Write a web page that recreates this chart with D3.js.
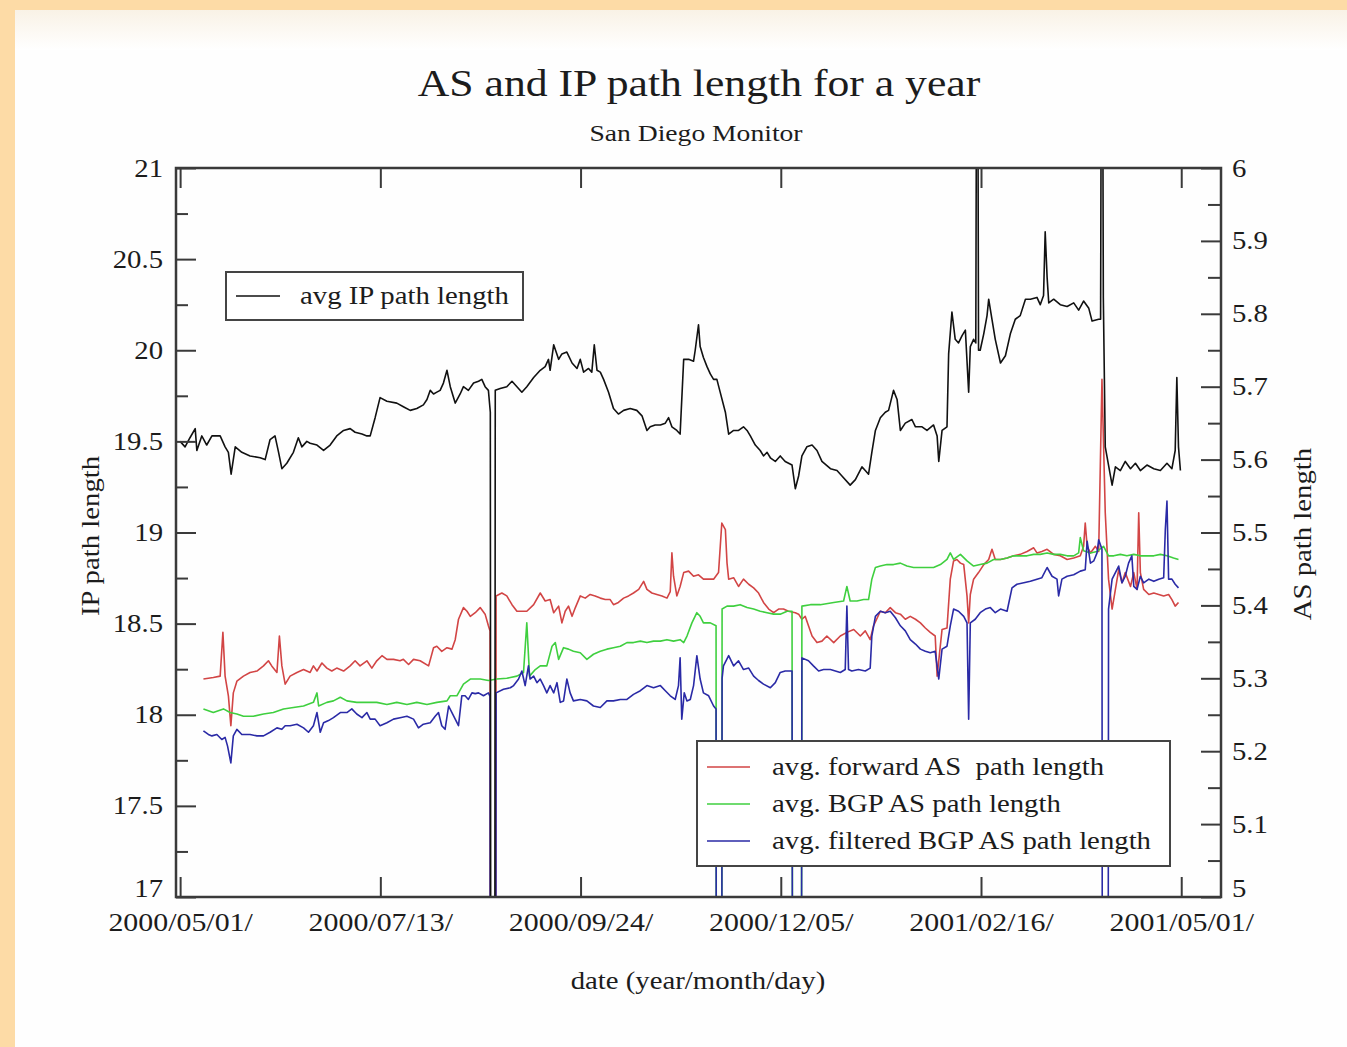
<!DOCTYPE html>
<html>
<head>
<meta charset="utf-8">
<title>AS and IP path length for a year</title>
<script src="https://cdn.jsdelivr.net/npm/d3@7"></script>
<style>
  body { margin: 0; background: #fddba6; }
  svg { display: block; }
  text { font-family: "Liberation Serif", "Times New Roman", serif; fill: #1c1c1c; }
</style>
</head>
<body>
<svg id="chart" width="1347" height="1047"></svg>
<script>
// ---- data: day offset from 2000/05/01, daily averages ----
// average IP path length (left axis)
const ipPath = [[0,19.50],[1.8,19.47],[3.6,19.52],[5.5,19.57],[6.1,19.45],[7.9,19.53],[9.7,19.48],[11.6,19.53],[14.6,19.53],[16.4,19.47],[17.6,19.44],[18.6,19.32],[20.1,19.47],[22.5,19.44],[25.5,19.42],[29.2,19.41],[31.0,19.40],[32.8,19.51],[34.6,19.53],[35.9,19.44],[37.1,19.35],[38.9,19.38],[41.3,19.44],[43.1,19.52],[44.4,19.47],[46.2,19.50],[47.4,19.49],[49.9,19.48],[52.3,19.45],[54.7,19.48],[57.1,19.53],[59.6,19.56],[62.0,19.57],[63.8,19.55],[66.3,19.54],[68.1,19.53],[69.3,19.53],[71.1,19.63],[72.9,19.74],[75.4,19.72],[79.0,19.71],[81.4,19.69],[83.9,19.67],[86.3,19.68],[88.7,19.70],[90.0,19.73],[91.2,19.78],[92.4,19.76],[93.6,19.77],[94.8,19.78],[96.0,19.82],[97.3,19.89],[98.5,19.80],[100.3,19.71],[102.1,19.76],[103.3,19.80],[105.1,19.78],[107.0,19.82],[108.8,19.83],[110.0,19.84],[111.2,19.80],[112.4,19.78],[113.1,19.66],[114.0,0],[114.9,19.78],[116.7,19.79],[119.1,19.80],[121.0,19.83],[122.8,19.80],[124.6,19.77],[126.4,19.80],[128.9,19.85],[131.3,19.89],[133.1,19.91],[134.3,19.95],[134.9,19.89],[136.2,20.03],[138.0,19.95],[139.2,19.98],[141.0,19.99],[142.9,19.93],[144.7,19.90],[145.9,19.95],[147.1,19.88],[148.9,19.90],[150.1,19.88],[151.0,20.03],[152.0,19.89],[153.2,19.88],[154.4,19.84],[156.2,19.77],[158.0,19.68],[159.8,19.65],[161.7,19.67],[164.1,19.68],[166.5,19.67],[168.4,19.64],[170.2,19.56],[171.4,19.58],[173.2,19.59],[175.1,19.59],[176.9,19.60],[178.1,19.63],[179.3,19.58],[181.1,19.56],[182.3,19.54],[183.6,19.95],[185.4,19.95],[187.2,19.94],[187.8,20.00],[189.0,20.14],[189.6,20.02],[190.8,19.96],[192.1,19.91],[193.3,19.87],[194.5,19.84],[195.7,19.84],[196.9,19.77],[198.8,19.66],[200.0,19.54],[201.8,19.56],[203.6,19.56],[205.4,19.58],[206.7,19.56],[207.9,19.53],[209.7,19.48],[211.5,19.45],[212.7,19.42],[214.0,19.44],[215.2,19.41],[217.0,19.39],[218.8,19.42],[220.6,19.39],[223.1,19.37],[224.3,19.24],[225.5,19.31],[226.7,19.42],[228.5,19.47],[230.4,19.48],[232.2,19.45],[234.0,19.39],[237.1,19.35],[239.5,19.34],[241.3,19.31],[244.3,19.26],[246.2,19.29],[248.6,19.36],[249.8,19.34],[251.0,19.32],[252.2,19.44],[253.5,19.56],[255.3,19.63],[257.1,19.66],[258.3,19.67],[260.1,19.78],[261.4,19.73],[262.6,19.56],[264.4,19.60],[266.8,19.62],[268.1,19.58],[270.5,19.58],[272.3,19.56],[274.7,19.59],[276.0,19.53],[276.6,19.39],[277.8,19.56],[279.6,19.58],[280.2,19.98],[281.4,20.21],[282.6,20.06],[283.8,20.04],[285.1,20.08],[286.3,20.11],[287.5,19.77],[288.1,20.02],[289.3,20.06],[290.1,20.04],[290.6,23],[291.1,20.00],[291.7,20.00],[293.0,20.09],[294.2,20.19],[294.8,20.28],[296.0,20.17],[297.2,20.06],[299.1,19.93],[300.9,19.97],[302.7,20.09],[304.5,20.17],[306.3,20.19],[308.2,20.28],[310.0,20.28],[312.4,20.29],[313.6,20.25],[314.8,20.30],[315.4,20.65],[316.1,20.40],[316.7,20.26],[318.5,20.28],[320.9,20.25],[323.4,20.24],[325.8,20.26],[327.6,20.22],[329.4,20.27],[331.3,20.23],[332.5,20.16],[334.9,20.17],[335.6,20.17],[336.1,23],[336.6,20.29],[337.3,19.47],[339.8,19.26],[341.0,19.36],[342.8,19.34],[344.6,19.39],[346.5,19.35],[348.3,19.38],[350.1,19.34],[352.5,19.37],[355.0,19.35],[357.4,19.34],[359.8,19.38],[361.6,19.35],[362.8,19.45],[363.4,19.85],[364.0,19.47],[364.7,19.34]];

// average forward AS path length (right axis)
const forwardAS = [[8.5,5.299],[12.1,5.301],[14.6,5.303],[15.6,5.363],[16.4,5.303],[17.6,5.276],[18.5,5.235],[19.4,5.280],[20.7,5.296],[23.1,5.303],[25.5,5.308],[28.0,5.310],[30.4,5.317],[32.2,5.324],[33.4,5.317],[35.3,5.308],[36.2,5.358],[37.1,5.317],[38.3,5.292],[40.1,5.303],[42.6,5.308],[45.0,5.312],[47.4,5.308],[48.6,5.317],[49.9,5.310],[51.7,5.321],[53.5,5.314],[55.3,5.310],[57.1,5.314],[59.6,5.310],[62.0,5.317],[63.8,5.324],[65.6,5.317],[68.1,5.324],[69.9,5.314],[71.7,5.324],[73.6,5.331],[75.4,5.326],[77.8,5.326],[80.2,5.324],[81.4,5.326],[83.3,5.319],[85.1,5.326],[87.5,5.324],[90.6,5.317],[92.4,5.342],[93.6,5.344],[95.4,5.337],[97.3,5.342],[99.1,5.340],[100.3,5.353],[101.5,5.381],[103.3,5.397],[104.6,5.392],[105.8,5.385],[107.6,5.390],[109.4,5.397],[111.2,5.388],[112.4,5.372],[113.0,5.365],[114.0,0],[115.2,5.413],[117.3,5.417],[119.1,5.413],[121.0,5.401],[122.8,5.392],[124.0,5.392],[126.4,5.392],[128.9,5.401],[131.3,5.417],[133.1,5.406],[134.9,5.408],[136.2,5.390],[138.0,5.399],[139.2,5.376],[140.4,5.392],[141.6,5.399],[142.9,5.385],[144.1,5.397],[145.9,5.413],[147.7,5.410],[149.5,5.415],[151.3,5.413],[153.2,5.410],[155.0,5.408],[156.8,5.408],[158.0,5.401],[159.8,5.404],[161.7,5.410],[163.5,5.413],[165.3,5.417],[167.2,5.422],[169.0,5.433],[170.2,5.422],[172.0,5.417],[173.8,5.415],[175.7,5.413],[177.5,5.410],[178.7,5.419],[179.3,5.472],[179.9,5.440],[181.1,5.413],[182.3,5.426],[183.6,5.445],[185.4,5.447],[187.2,5.440],[189.0,5.442],[190.8,5.436],[192.7,5.436],[194.5,5.436],[196.3,5.445],[197.5,5.513],[198.8,5.504],[199.4,5.458],[200.0,5.436],[201.8,5.438],[203.6,5.426],[205.4,5.436],[207.3,5.429],[209.1,5.424],[210.9,5.417],[212.7,5.404],[214.6,5.395],[216.4,5.390],[218.2,5.395],[220.0,5.395],[221.8,5.392],[224.3,5.390],[225.5,5.388],[226.7,5.381],[227.9,5.385],[229.1,5.372],[230.4,5.358],[232.2,5.349],[234.0,5.351],[235.8,5.358],[238.3,5.349],[240.7,5.358],[243.1,5.363],[245.6,5.367],[248.0,5.358],[249.8,5.365],[251.6,5.353],[252.8,5.372],[255.3,5.392],[257.1,5.390],[258.9,5.397],[260.8,5.390],[262.6,5.388],[264.4,5.381],[266.2,5.385],[268.1,5.381],[269.9,5.376],[271.7,5.369],[273.5,5.363],[275.3,5.358],[276.0,5.303],[277.8,5.367],[279.6,5.369],[280.8,5.436],[282.0,5.461],[283.2,5.463],[284.5,5.458],[285.7,5.456],[286.9,5.413],[287.5,5.376],[288.1,5.415],[289.3,5.436],[291.1,5.445],[293.0,5.456],[294.8,5.463],[296.0,5.477],[297.2,5.463],[299.1,5.463],[301.5,5.465],[303.9,5.468],[306.3,5.470],[308.8,5.474],[311.2,5.479],[312.4,5.472],[314.2,5.474],[316.1,5.477],[318.5,5.470],[320.9,5.468],[323.4,5.463],[325.8,5.465],[328.2,5.468],[329.4,5.481],[330.0,5.513],[330.7,5.481],[331.9,5.472],[333.7,5.481],[334.9,5.474],[336.1,5.710],[337.3,5.527],[338.5,5.436],[339.8,5.395],[341.0,5.422],[342.2,5.449],[343.4,5.431],[344.6,5.445],[346.5,5.426],[347.7,5.445],[348.9,5.422],[349.5,5.527],[350.1,5.445],[351.3,5.422],[353.2,5.415],[355.0,5.417],[356.8,5.415],[358.6,5.413],[360.4,5.415],[361.6,5.408],[362.8,5.399],[364.0,5.404]];

// average BGP AS path length (right axis)
const bgpAS = [[8.5,5.258],[12.1,5.253],[15.8,5.258],[18.2,5.253],[20.7,5.251],[23.1,5.248],[26.7,5.248],[30.4,5.251],[34.0,5.253],[37.7,5.258],[41.3,5.260],[45.0,5.262],[48.6,5.267],[49.9,5.280],[50.5,5.262],[53.5,5.267],[55.9,5.269],[58.4,5.274],[60.8,5.269],[64.4,5.267],[68.1,5.267],[71.7,5.267],[75.4,5.264],[79.0,5.267],[82.7,5.264],[86.3,5.267],[90.0,5.264],[93.6,5.267],[97.3,5.269],[98.5,5.276],[100.9,5.276],[103.3,5.292],[105.8,5.299],[109.4,5.299],[112.4,5.297],[115.5,5.299],[119.1,5.300],[122.8,5.303],[125.2,5.308],[126.4,5.376],[127.4,5.303],[129.5,5.312],[131.3,5.317],[133.7,5.317],[135.6,5.344],[136.8,5.349],[138.0,5.326],[139.8,5.342],[141.6,5.340],[143.4,5.337],[145.9,5.335],[148.3,5.326],[150.7,5.333],[153.2,5.337],[155.6,5.340],[158.0,5.342],[160.5,5.344],[162.9,5.349],[165.3,5.349],[167.8,5.351],[170.2,5.349],[172.6,5.351],[175.1,5.351],[177.5,5.353],[179.9,5.351],[182.3,5.353],[183.6,5.349],[184.8,5.358],[186.6,5.376],[188.4,5.390],[189.6,5.385],[190.8,5.376],[193.3,5.376],[195.4,5.372],[196.4,0],[197.6,5.395],[199.4,5.399],[201.8,5.399],[204.2,5.401],[206.7,5.397],[209.1,5.395],[211.5,5.392],[214.0,5.390],[216.4,5.388],[218.8,5.388],[221.3,5.392],[223.1,5.392],[225.0,0],[226.7,5.399],[229.8,5.401],[233.4,5.401],[238.3,5.404],[241.9,5.406],[243.1,5.426],[244.3,5.406],[246.8,5.406],[249.2,5.408],[251.0,5.408],[252.2,5.436],[253.5,5.452],[255.3,5.454],[257.7,5.456],[260.1,5.456],[262.6,5.458],[265.0,5.454],[267.4,5.452],[269.9,5.452],[272.3,5.452],[274.7,5.452],[277.2,5.456],[279.6,5.463],[280.8,5.472],[282.0,5.463],[284.5,5.470],[286.9,5.461],[289.3,5.454],[291.7,5.456],[294.2,5.458],[296.6,5.463],[299.1,5.463],[301.5,5.465],[303.9,5.468],[306.3,5.468],[308.8,5.468],[311.2,5.470],[313.6,5.470],[316.1,5.472],[318.5,5.470],[320.9,5.470],[323.4,5.468],[325.8,5.468],[327.6,5.472],[328.2,5.493],[329.4,5.475],[331.9,5.472],[334.3,5.474],[336.7,5.481],[338.5,5.468],[340.4,5.468],[342.8,5.470],[345.2,5.468],[347.7,5.470],[350.1,5.468],[352.5,5.468],[355.0,5.468],[357.4,5.470],[359.8,5.468],[362.2,5.465],[364.0,5.463]];

// average filtered BGP AS path length (right axis)
const filteredAS = [[8.5,5.228],[10.3,5.223],[11.6,5.221],[13.4,5.223],[15.2,5.216],[16.4,5.219],[17.3,5.207],[18.5,5.184],[19.4,5.221],[20.7,5.230],[22.5,5.223],[25.5,5.223],[28.0,5.221],[30.4,5.221],[32.8,5.226],[35.3,5.232],[37.1,5.230],[38.3,5.235],[40.1,5.235],[42.6,5.237],[45.0,5.232],[46.8,5.226],[48.6,5.235],[49.9,5.253],[51.1,5.226],[52.3,5.239],[54.1,5.242],[55.9,5.246],[58.4,5.253],[60.8,5.253],[62.6,5.258],[64.4,5.251],[66.3,5.246],[68.1,5.253],[69.3,5.244],[71.1,5.244],[72.9,5.235],[75.4,5.239],[77.8,5.244],[80.2,5.246],[82.7,5.248],[85.1,5.244],[86.9,5.232],[88.7,5.237],[91.2,5.239],[93.0,5.248],[94.2,5.253],[95.4,5.235],[96.6,5.230],[97.9,5.262],[99.1,5.253],[100.3,5.244],[101.5,5.235],[102.7,5.276],[103.9,5.276],[105.1,5.271],[106.4,5.280],[107.6,5.279],[108.8,5.280],[110.6,5.276],[112.4,5.280],[113.0,5.275],[114.0,0],[115.2,5.280],[117.9,5.285],[120.4,5.287],[121.6,5.290],[123.4,5.299],[124.6,5.310],[125.8,5.290],[127.0,5.317],[127.6,5.299],[128.9,5.303],[130.1,5.294],[131.3,5.299],[132.5,5.290],[133.7,5.280],[134.9,5.290],[136.2,5.280],[137.4,5.294],[138.6,5.267],[139.8,5.269],[141.0,5.299],[142.2,5.280],[143.4,5.269],[145.9,5.271],[148.3,5.269],[150.7,5.262],[153.2,5.260],[155.6,5.269],[158.0,5.269],[160.5,5.271],[162.9,5.271],[165.3,5.278],[167.8,5.283],[170.2,5.290],[172.6,5.287],[175.1,5.290],[176.9,5.283],[178.7,5.276],[180.5,5.271],[181.7,5.290],[182.3,5.328],[182.9,5.244],[183.8,5.280],[184.8,5.269],[186.0,5.271],[187.2,5.290],[188.4,5.331],[189.6,5.299],[190.8,5.280],[192.7,5.276],[194.5,5.262],[195.4,5.258],[196.4,0],[197.6,5.300],[198.1,5.317],[200.0,5.331],[201.8,5.317],[203.6,5.324],[205.4,5.312],[207.3,5.314],[209.1,5.303],[210.9,5.297],[212.7,5.292],[215.2,5.287],[217.0,5.294],[218.8,5.308],[220.6,5.310],[223.1,5.310],[225.0,0],[226.7,5.328],[229.1,5.324],[230.9,5.317],[232.8,5.310],[234.6,5.312],[237.1,5.312],[240.7,5.308],[242.5,5.312],[243.1,5.399],[243.7,5.312],[244.9,5.310],[247.3,5.312],[249.8,5.310],[251.6,5.314],[252.2,5.358],[253.5,5.385],[255.3,5.392],[257.1,5.390],[258.9,5.392],[260.8,5.383],[262.6,5.372],[264.4,5.365],[266.2,5.353],[268.1,5.347],[269.9,5.340],[271.7,5.337],[273.5,5.335],[275.3,5.337],[276.6,5.299],[277.8,5.340],[279.6,5.344],[280.8,5.372],[282.0,5.395],[283.8,5.392],[285.7,5.385],[286.9,5.376],[287.5,5.244],[288.1,5.376],[289.9,5.381],[291.7,5.390],[293.6,5.395],[295.4,5.397],[297.2,5.390],[299.1,5.395],[301.5,5.392],[303.3,5.424],[305.1,5.429],[307.6,5.431],[310.0,5.433],[312.4,5.436],[314.2,5.438],[316.1,5.452],[317.9,5.440],[319.7,5.436],[320.3,5.413],[321.5,5.436],[323.4,5.440],[325.8,5.442],[328.2,5.447],[330.0,5.449],[330.7,5.488],[331.9,5.458],[333.1,5.461],[334.3,5.472],[334.9,5.490],[336.1,5.477],[337.2,0],[338.5,5.395],[339.8,5.436],[341.0,5.445],[342.2,5.454],[343.4,5.431],[344.6,5.440],[345.8,5.458],[347.0,5.468],[347.7,5.426],[348.9,5.422],[350.1,5.440],[351.3,5.431],[353.2,5.436],[355.0,5.433],[356.8,5.436],[358.6,5.438],[359.2,5.504],[359.8,5.543],[360.4,5.436],[361.6,5.436],[362.8,5.429],[364.0,5.424]];

// axis ticks
const dateTickDays = [0, 73, 146, 219, 292, 365];
const dateTickLabels = ["2000/05/01/", "2000/07/13/", "2000/09/24/", "2000/12/05/", "2001/02/16/", "2001/05/01/"];
const ipTicks = [17, 17.5, 18, 18.5, 19, 19.5, 20, 20.5, 21];
const ipMinorTicks = [17.25, 17.75, 18.25, 18.75, 19.25, 19.75, 20.25, 20.75];
const asTicks = [5, 5.1, 5.2, 5.3, 5.4, 5.5, 5.6, 5.7, 5.8, 5.9, 6];
const asMinorTicks = [5.05, 5.15, 5.25, 5.35, 5.45, 5.55, 5.65, 5.75, 5.85, 5.95];

// series styling and legend text
const asSeries = [
  { name: "avg. forward AS  path length", values: forwardAS, color: "#d24545" },
  { name: "avg. BGP AS path length", values: bgpAS, color: "#3fcf3f" },
  { name: "avg. filtered BGP AS path length", values: filteredAS, color: "#2a2aa6" }
];

// ---- layout ----
const W = 1347, H = 1047;
const SX = 1.15;            // horizontal stretch of the serif lettering
const frame = { left: 176, right: 1221, top: 168, bottom: 897 };

const svg = d3.select("#chart");
const defs = svg.append("defs");

const panelGrad = defs.append("linearGradient").attr("id", "panelTop")
  .attr("x1", 0).attr("y1", 0).attr("x2", 0).attr("y2", 1);
panelGrad.append("stop").attr("offset", "0%").attr("stop-color", "#f9f2e6");
panelGrad.append("stop").attr("offset", "100%").attr("stop-color", "#ffffff");

defs.append("clipPath").attr("id", "plotClip")
  .append("rect")
  .attr("x", frame.left).attr("y", frame.top)
  .attr("width", frame.right - frame.left).attr("height", frame.bottom - frame.top);

// page and panel
svg.append("rect").attr("width", W).attr("height", H).attr("fill", "#fddba6");
svg.append("rect").attr("x", 15).attr("y", 10).attr("width", W - 15).attr("height", H - 10).attr("fill", "#fefefe");
svg.append("rect").attr("x", 15).attr("y", 10).attr("width", W - 15).attr("height", 40).attr("fill", "url(#panelTop)");

// scales
const x = d3.scaleLinear().domain([-1.5, 379.5]).range([frame.left, frame.right]);
const yIP = d3.scaleLinear().domain([17, 21]).range([frame.bottom, frame.top]);
const yAS = d3.scaleLinear().domain([5, 6]).range([frame.bottom, frame.top]);

function stretched(parent, px, py, str, size, anchor, rotate) {
  const g = parent.append("g")
    .attr("transform", `translate(${px},${py})` + (rotate ? ` rotate(${rotate})` : ""));
  return g.append("text")
    .attr("transform", `scale(${SX},1)`)
    .attr("text-anchor", anchor || "start")
    .attr("font-size", size)
    .style("white-space", "pre")
    .text(str);
}

function stretchTickLabels(axisG) {
  axisG.selectAll(".tick text").each(function () {
    const t = d3.select(this);
    t.attr("x", (+t.attr("x") || 0) / SX).attr("transform", `scale(${SX},1)`);
  });
}

// ---- plotted series ----
const plot = svg.append("g").attr("clip-path", "url(#plotClip)");

const asLine = d3.line().x(d => x(d[0])).y(d => yAS(d[1]));
asSeries.forEach(s => {
  plot.append("path").datum(s.values)
    .attr("fill", "none").attr("stroke", s.color)
    .attr("stroke-width", 1.6).attr("stroke-linejoin", "round")
    .attr("d", asLine);
});

const ipLine = d3.line().x(d => x(d[0])).y(d => yIP(d[1]));
plot.append("path").datum(ipPath)
  .attr("fill", "none").attr("stroke", "#111")
  .attr("stroke-width", 1.6).attr("stroke-linejoin", "round")
  .attr("d", ipLine);

// ---- axes ----
const axisColor = "#3a3a3a";
function styleAxis(g) {
  g.select(".domain").remove();
  g.selectAll(".tick line").attr("stroke", axisColor).attr("stroke-width", 2);
  g.selectAll(".tick text").attr("font-size", 25).attr("fill", "#1c1c1c")
    .attr("font-family", '"Liberation Serif", "Times New Roman", serif');
}

// bottom date axis (ticks point up into the plot)
const bottomAxis = svg.append("g").attr("transform", `translate(0,${frame.bottom})`)
  .call(d3.axisBottom(x).tickValues(dateTickDays)
    .tickFormat((d, i) => dateTickLabels[i]).tickSizeInner(-20).tickSizeOuter(0).tickPadding(16));
styleAxis(bottomAxis);
bottomAxis.selectAll(".tick text").attr("font-size", 26);
stretchTickLabels(bottomAxis);

// top edge ticks
const topAxis = svg.append("g").attr("transform", `translate(0,${frame.top})`)
  .call(d3.axisTop(x).tickValues(dateTickDays).tickFormat("").tickSizeInner(-20).tickSizeOuter(0));
styleAxis(topAxis);

// left IP axis
const leftAxis = svg.append("g").attr("transform", `translate(${frame.left},0)`)
  .call(d3.axisLeft(yIP).tickValues(ipTicks).tickFormat(d => String(d))
    .tickSizeInner(-20).tickSizeOuter(0).tickPadding(13));
styleAxis(leftAxis);
stretchTickLabels(leftAxis);
const leftMinor = svg.append("g").attr("transform", `translate(${frame.left},0)`)
  .call(d3.axisLeft(yIP).tickValues(ipMinorTicks).tickFormat("").tickSizeInner(-12).tickSizeOuter(0));
styleAxis(leftMinor);

// right AS axis
const rightAxis = svg.append("g").attr("transform", `translate(${frame.right},0)`)
  .call(d3.axisRight(yAS).tickValues(asTicks).tickFormat(d => String(d))
    .tickSizeInner(-20).tickSizeOuter(0).tickPadding(11));
styleAxis(rightAxis);
stretchTickLabels(rightAxis);
const rightMinor = svg.append("g").attr("transform", `translate(${frame.right},0)`)
  .call(d3.axisRight(yAS).tickValues(asMinorTicks).tickFormat("").tickSizeInner(-13).tickSizeOuter(0));
styleAxis(rightMinor);

// lowest labels of both value axes sit a little above their tick, clear of the dates
leftAxis.selectAll(".tick text").filter(d => d === ipTicks[0]).attr("dy", "-0.02em");
rightAxis.selectAll(".tick text").filter(d => d === asTicks[0]).attr("dy", "-0.02em");

// frame
svg.append("rect")
  .attr("x", frame.left).attr("y", frame.top)
  .attr("width", frame.right - frame.left).attr("height", frame.bottom - frame.top)
  .attr("fill", "none").attr("stroke", axisColor).attr("stroke-width", 2.5);

// ---- titles ----
stretched(svg, 699, 96, "AS and IP path length for a year", 38, "middle");
stretched(svg, 696, 141, "San Diego Monitor", 24, "middle");
stretched(svg, 698, 989, "date (year/month/day)", 25, "middle");
stretched(svg, 99, 536, "IP path length", 25, "middle", -90);
stretched(svg, 1311, 534, "AS path length", 25, "middle", -90);

// ---- legends ----
const legendIP = svg.append("g");
legendIP.append("rect").attr("x", 226).attr("y", 272).attr("width", 297).attr("height", 48)
  .attr("fill", "#fff").attr("stroke", "#444").attr("stroke-width", 2);
legendIP.append("line").attr("x1", 236).attr("x2", 280).attr("y1", 296).attr("y2", 296)
  .attr("stroke", "#111").attr("stroke-width", 1.6);
stretched(legendIP, 300, 304, "avg IP path length", 25, "start");

const legendAS = svg.append("g");
legendAS.append("rect").attr("x", 697).attr("y", 741).attr("width", 473).attr("height", 125)
  .attr("fill", "#fff").attr("stroke", "#444").attr("stroke-width", 2);
asSeries.forEach((s, i) => {
  const ly = 767 + i * 37;
  legendAS.append("line").attr("x1", 707).attr("x2", 750).attr("y1", ly).attr("y2", ly)
    .attr("stroke", s.color).attr("stroke-width", 1.6);
  stretched(legendAS, 772, ly + 8, s.name, 25, "start");
});
</script>
</body>
</html>
